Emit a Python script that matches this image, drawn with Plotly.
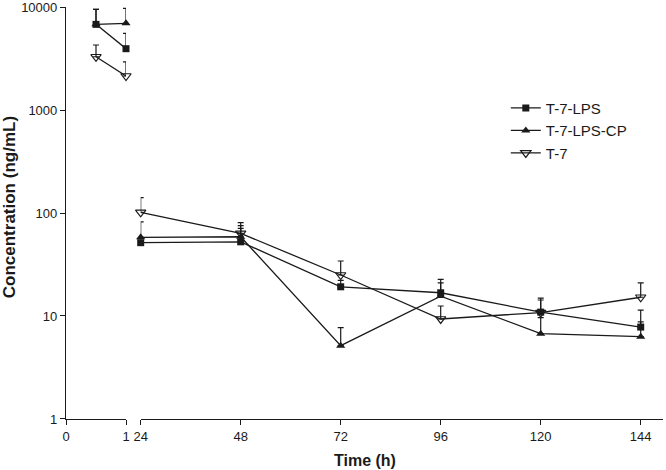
import plotly.graph_objects as go

# ---- data ----
t_early = [0.5, 1]
t_late = [24, 48, 72, 96, 120, 144]

lps_early = [6790, 3940]
lps_early_sd = [2690, 1620]
lps_late = [51.5, 52.5, 19.2, 16.8, 10.9, 7.8]
lps_late_sd = [6, 18.5, 3, 5.9, 4.0, 3.6]

cp_early = [6800, 6950]
cp_early_sd = [2700, 2750]
cp_late = [58, 58.8, 5.15, 15.6, 6.73, 6.3]
cp_late_sd = [24, 16.6, 2.55, 5.4, 2.9, 2.45]

t7_early = [3290, 2140]
t7_early_sd = [990, 800]
t7_late = [101.6, 63.5, 25, 9.35, 10.8, 15.2]
t7_late_sd = [39.4, 17.3, 9.2, 3.15, 3.5, 5.8]

y_ticks = [1, 10, 100, 1000, 10000]
y_ticktext = ["1", "10", "100", "1000", "10000"]
x1_ticks = [0, 1]
x2_ticks = [24, 48, 72, 96, 120, 144]

FONT = "Liberation Sans, Arial, sans-serif"
INK = "#1a1a1a"

styles = {
    "T-7-LPS": dict(symbol="square", size=7, color=INK),
    "T-7-LPS-CP": dict(symbol="triangle-up", size=8, color=INK),
    "T-7": dict(symbol="triangle-down-open", size=9, color=INK, line=dict(width=1.2, color=INK)),
}

fig = go.Figure()


def add(x, y, sd, name, xaxis, showlegend):
    fig.add_trace(go.Scatter(
        x=x, y=y, name=name, mode="lines+markers",
        xaxis=xaxis, yaxis="y",
        line=dict(color=INK, width=1.3),
        marker=styles[name],
        error_y=dict(type="data", symmetric=False, array=sd,
                     arrayminus=[0] * len(sd), color=INK,
                     thickness=1.2, width=3),
        showlegend=showlegend, legendgroup=name, cliponaxis=False,
    ))


# early segment (drawn so squares lie on top)
add(t_early, t7_early, t7_early_sd, "T-7", "x", False)
add(t_early, cp_early, cp_early_sd, "T-7-LPS-CP", "x", False)
add(t_early, lps_early, lps_early_sd, "T-7-LPS", "x", False)
# late segment (legend)
add(t_late, lps_late, lps_late_sd, "T-7-LPS", "x2", True)
add(t_late, cp_late, cp_late_sd, "T-7-LPS-CP", "x2", True)
add(t_late, t7_late, t7_late_sd, "T-7", "x2", True)

axis_common = dict(showline=True, linecolor=INK, linewidth=1.2, ticks="outside",
                   ticklen=5, tickwidth=1.2, tickcolor=INK, showgrid=False,
                   zeroline=False, automargin=False, ticklabeloverflow="allow",
                   tickfont=dict(family=FONT, size=13, color=INK))

fig.update_layout(
    width=666, height=470,
    margin=dict(l=66, r=3, t=7, b=51, autoexpand=False),
    paper_bgcolor="white", plot_bgcolor="white",
    font=dict(family=FONT, color=INK),
    xaxis=dict(domain=[0, 0.1005], range=[0, 1], tickvals=x1_ticks,
               anchor="y", **axis_common),
    xaxis2=dict(domain=[0.1251, 1], range=[24, 149.35], tickvals=x2_ticks,
                anchor="y", **axis_common),
    yaxis=dict(type="log", range=[-0.0005, 4.0005], tickvals=y_ticks,
               ticktext=y_ticktext, anchor="x", **axis_common),
    legend=dict(x=0.7367, y=0.7945, xanchor="left", yanchor="top",
                font=dict(family=FONT, size=15, color=INK),
                bgcolor="rgba(0,0,0,0)", tracegroupgap=0),
    annotations=[
        dict(text="<b>Time (h)</b>", xref="paper", yref="paper", x=0.5, y=-0.101,
             xanchor="center", yanchor="middle", showarrow=False,
             font=dict(family=FONT, size=16, color=INK)),
        dict(text="<b>Concentration (ng/mL)</b>", xref="paper", yref="paper",
             x=-0.0955, y=0.514, xanchor="center", yanchor="middle",
             textangle=-90, showarrow=False,
             font=dict(family=FONT, size=17, color=INK)),
    ],
)

fig.write_html("out.html", config={"displayModeBar": False},
               post_script="document.body.style.margin='0';document.body.style.overflow='hidden';")
